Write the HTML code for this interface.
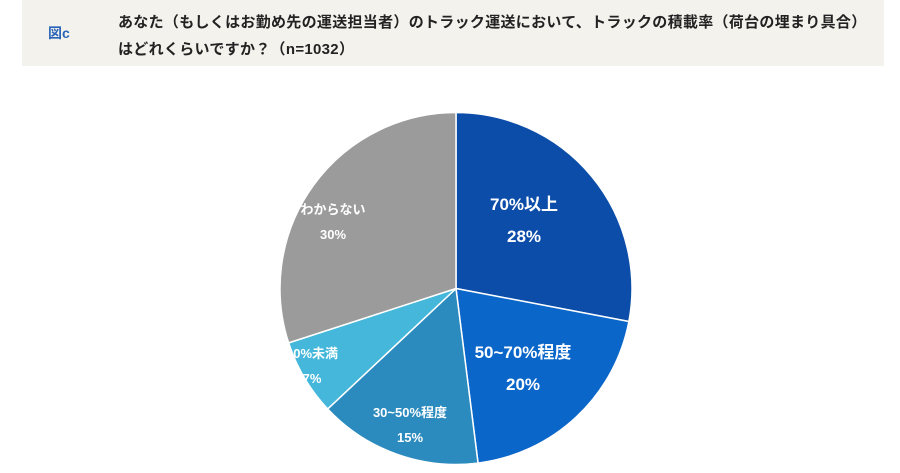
<!DOCTYPE html>
<html><head><meta charset="utf-8">
<style>
body{margin:0;width:900px;height:473px;background:#fff;font-family:"Liberation Sans","Noto Sans CJK JP",sans-serif;overflow:hidden;position:relative}
.hdr{position:absolute;left:22px;top:0;width:862px;height:66px;background:#f4f2ed}
.fig{position:absolute;left:48px;top:23px;font-size:14px;font-weight:bold;color:#2a64b8}
.q{position:absolute;left:118px;top:9px;width:760px;font-size:15px;font-weight:bold;color:#222;line-height:27px;letter-spacing:0.3px}
svg{position:absolute;left:0;top:0}
</style></head><body>
<div class="hdr"></div>
<div class="fig">図c</div>
<div class="q">あなた（もしくはお勤め先の運送担当者）のトラック運送において、トラックの積載率（荷台の埋まり具合）はどれくらいですか？（n=1032）</div>
<svg id="pie" width="900" height="473"></svg>
<script>
const categories=["70%以上","50~70%程度","30~50%程度","30%未満","わからない"];
const values=[28,20,15,7,30];
const colors=["#0b4da8","#0b66c9","#2c8bbe","#44b7da","#9b9b9b"];
const labelPos=[[524,210,17],[523,358,17],[410,417,13],[312,358,13],[333,214,13]];
const cx=456,cy=288.5,r=176;
const svg=document.getElementById('pie');
const NS="http://www.w3.org/2000/svg";
const total=values.reduce((a,b)=>a+b,0);
let acc=0;
function pt(a){return [cx+r*Math.sin(a),cy-r*Math.cos(a)];}
values.forEach((v,i)=>{
  const a0=acc/total*2*Math.PI; acc+=v; const a1=acc/total*2*Math.PI;
  const p0=pt(a0),p1=pt(a1);
  const large=(a1-a0)>Math.PI?1:0;
  const p=document.createElementNS(NS,'path');
  p.setAttribute('d',`M${cx},${cy}L${p0[0]},${p0[1]}A${r},${r} 0 ${large} 1 ${p1[0]},${p1[1]}Z`);
  p.setAttribute('fill',colors[i]);p.setAttribute('stroke','#fff');p.setAttribute('stroke-width','1.5');
  
  
  svg.appendChild(p);
  const [lx,ly,fs]=labelPos[i];
  const t=document.createElementNS(NS,'text');
  t.setAttribute('x',lx);t.setAttribute('y',ly);t.setAttribute('text-anchor','middle');
  t.setAttribute('fill','#fff');t.setAttribute('font-weight','bold');t.setAttribute('font-size',fs);
  t.textContent=categories[i];
  
  
  svg.appendChild(t);
  const t2=document.createElementNS(NS,'text');
  t2.setAttribute('x',lx);t2.setAttribute('y',ly+(fs>14?32:25));t2.setAttribute('text-anchor','middle');
  t2.setAttribute('fill','#fff');t2.setAttribute('font-weight','bold');t2.setAttribute('font-size',fs);
  t2.textContent=v+'%';
  
  
  svg.appendChild(t2);
});
</script>
</body></html>
